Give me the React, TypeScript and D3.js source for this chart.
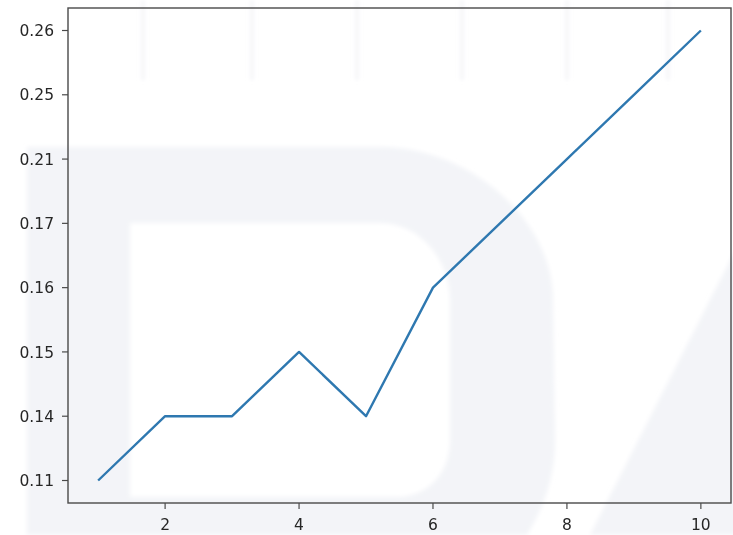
import React from "react";
import * as d3 from "d3";

const xValues = [1, 2, 3, 4, 5, 6, 7, 8, 9, 10];
const yValues = ["0.11", "0.14", "0.14", "0.15", "0.14", "0.16", "0.17", "0.21", "0.25", "0.26"];
const yCategories = ["0.11", "0.14", "0.15", "0.16", "0.17", "0.21", "0.25", "0.26"];
const xTicks = [2, 4, 6, 8, 10];

const W = 733;
const H = 535;
const left = 68;
const right = 731;
const top = 8;
const bottom = 503;

export default function App() {
  const x = d3.scaleLinear().domain([0.55, 10.45]).range([left, right]);
  const y = d3.scalePoint<string>().domain(yCategories).range([bottom, top]).padding(0.35);
  const line = d3
    .line<number>()
    .x((d) => x(xValues[d]))
    .y((d) => y(yValues[d]) as number);
  const idx = xValues.map((_, i) => i);
  const font = "'DejaVu Sans', sans-serif";
  const wm = "#f3f4f8";

  return (
    <svg
      width={W}
      height={H}
      style={{ position: "absolute", left: 0, top: 0, display: "block", background: "#fff" }}
    >
      <defs>
        <filter id="soft" x="-5%" y="-5%" width="110%" height="110%">
          <feGaussianBlur stdDeviation="0.45" />
        </filter>
        <filter id="wmblur">
          <feGaussianBlur stdDeviation="2" />
        </filter>
      </defs>
      {/* watermark */}
      <g filter="url(#wmblur)">
        <path
          fillRule="evenodd"
          fill={wm}
          d="M27 147 L380 147 C470 147 553 220 553 300 L555 440 C555 480 542 510 527 535 L27 535 Z M130 223 L380 223 C420 223 450 260 450 300 L450 440 C450 472 430 495 400 497 L130 497 Z"
        />
        <path fill={wm} d="M738 245 L738 535 L590 535 Z" />
        {[143, 252, 357, 462, 567, 668].map((vx) => (
          <line key={vx} x1={vx} x2={vx} y1={0} y2={80} stroke="#f2f3f6" strokeWidth={3} />
        ))}
      </g>
      <g filter="url(#soft)">
        <path d={line(idx) ?? ""} fill="none" stroke="#2f78b0" strokeWidth={2.4} strokeLinejoin="round" />
        <rect
          x={left}
          y={top}
          width={right - left}
          height={bottom - top}
          fill="none"
          stroke="#4a4a4a"
          strokeWidth={1.4}
        />
        {yCategories.map((c) => (
          <g key={c} transform={`translate(0,${y(c)})`}>
            <line x1={left - 6} x2={left} stroke="#4a4a4a" strokeWidth={1.2} />
            <text x={left - 14} dy="0.36em" textAnchor="end" fontFamily={font} fontSize={15.5} fill="#262626">
              {c}
            </text>
          </g>
        ))}
        {xTicks.map((t) => (
          <g key={t} transform={`translate(${x(t)},0)`}>
            <line y1={bottom} y2={bottom + 6} stroke="#4a4a4a" strokeWidth={1.2} />
            <text y={bottom + 27} textAnchor="middle" fontFamily={font} fontSize={15.5} fill="#262626">
              {t}
            </text>
          </g>
        ))}
      </g>
    </svg>
  );
}
